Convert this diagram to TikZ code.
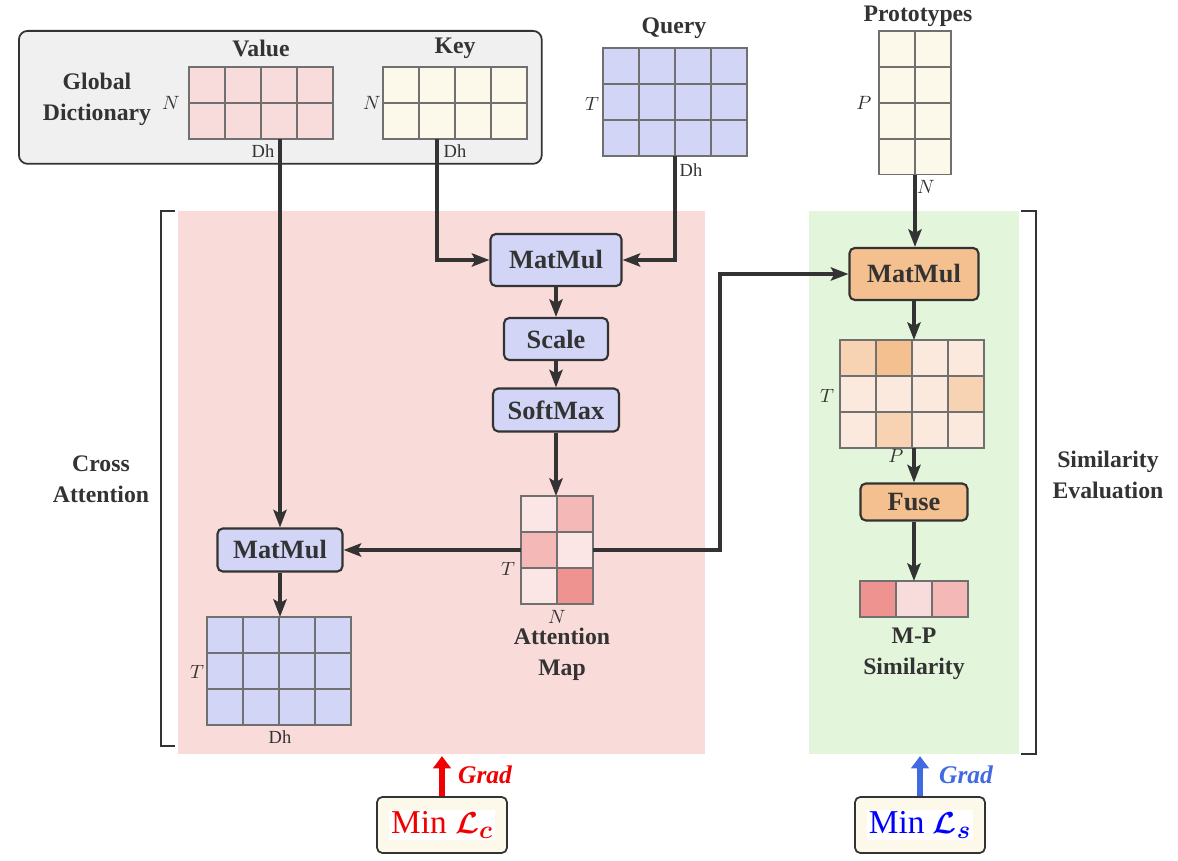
\documentclass[tikz,border=0pt]{standalone}
\usepackage{fontspec}
\setmainfont{Liberation Serif}
\usepackage{amsmath}
\usetikzlibrary{positioning, arrows.meta}

\definecolor{txt}{HTML}{333333}
\definecolor{lav}{HTML}{D3D5F7}
\definecolor{pinkbg}{HTML}{F9DBDA}
\definecolor{greenbg}{HTML}{E3F5DA}
\definecolor{dictgray}{HTML}{F0F0F0}
\definecolor{pinkcell}{HTML}{F8DCDB}
\definecolor{cream}{HTML}{FCF8EA}
\definecolor{orng}{HTML}{F5C08F}
\definecolor{orngmid}{HTML}{F8D3B3}
\definecolor{ornglight}{HTML}{FAE9DC}
\definecolor{attlight}{HTML}{FCE6E5}
\definecolor{attmid}{HTML}{F4B8B6}
\definecolor{attdark}{HTML}{EF9391}
\definecolor{gridgray}{HTML}{707070}
\definecolor{gradred}{HTML}{F00000}
\definecolor{gradblue}{HTML}{4169E1}

\newcommand{\cw}{0.72cm}
% grid lines over a matrix node
\newcommand{\gridlines}[3]{%
  \draw[gridline] (#1.north west) rectangle (#1.south east);
  \foreach \ci in {1,...,#2}
    \draw[gridline] ([xshift=\ci*\cw]#1.north west) -- ([xshift=\ci*\cw]#1.south west);
  \foreach \ri in {1,...,#3}
    \draw[gridline] ([yshift=-\ri*\cw]#1.north west) -- ([yshift=-\ri*\cw]#1.north east);
}
% one coloured cell (col, row from 0)
\newcommand{\cellfill}[4]{%
  \fill[#4] ([xshift=#2*\cw,yshift=-#3*\cw]#1.north west) rectangle ++(\cw,-\cw);
}

\begin{document}
\begin{tikzpicture}[x=0.02cm, y=-0.02cm,
  lbl/.style={font=\fontsize{13.5}{17.5}\selectfont\bfseries, text=txt, align=center},
  dimlbl/.style={font=\fontsize{10.5}{12}\selectfont, text=txt, inner sep=1pt},
  matbox/.style={inner sep=0pt, outer sep=0pt, anchor=north west},
  gridline/.style={draw=gridgray, line width=0.6pt},
  op/.style={draw=txt, line width=1.2pt, rounded corners=3pt, inner sep=0pt,
    font=\fontsize{15}{18}\selectfont\bfseries, text=txt},
  flow/.style={draw=txt, line width=2.2pt, -{Stealth[length=10pt, width=7.5pt, inset=2pt]}},
  bracket/.style={draw=txt, line width=0.9pt},
  lossbox/.style={draw=txt, line width=1pt, rounded corners=3pt, fill=cream,
    minimum width=2.6cm, minimum height=1.12cm, inner sep=0pt},
  gradarrow/.style={line width=3.2pt, -{Triangle[length=7pt, width=10pt]}},
  gradlbl/.style={font=\fontsize{14.5}{17}\selectfont\bfseries\itshape}]
  \useasboundingbox (0,0) rectangle (1178,861);

  % Panels
  \fill[pinkbg] (178,211) rectangle (705,754);
  \fill[greenbg] (809,211) rectangle (1019,754);
  \node[draw=txt, line width=1pt, rounded corners=5pt, fill=dictgray, anchor=north west,
    minimum width=10.46cm, minimum height=2.66cm] (dict) at (18,30) {};

  % Brackets
  \draw[bracket] (175,211) -- (161,211) -- (161,746) -- (175,746);
  \draw[bracket] (1021,211) -- (1036,211) -- (1036,754) -- (1021,754);

  % Side labels
  \node[lbl] (globdict) at (97,99) {Global\\Dictionary};
  \node[lbl] (crossatt) at (101,479) {Cross\\Attention};
  \node[lbl] (simeval) at (1108,475) {Similarity\\Evaluation};

  % Value
  \node[matbox, fill=pinkcell, minimum width=4*\cw, minimum height=2*\cw] (value) at (189,67) {};
  \gridlines{value}{4}{2}
  \node[lbl] (valuelbl) at (261,48) {Value};
  \node[dimlbl] (valuen) at (171,103) {$N$};
  \node[dimlbl] (valuedh) at (263,151) {$\mathrm{Dh}$};
  % Key
  \node[matbox, fill=cream, minimum width=4*\cw, minimum height=2*\cw] (key) at (383,67) {};
  \gridlines{key}{4}{2}
  \node[lbl] (keylbl) at (455,48) {Key};
  \node[dimlbl] (keyn) at (372,103) {$N$};
  \node[dimlbl] (keydh) at (455,151) {$\mathrm{Dh}$};
  % Query
  \node[matbox, fill=lav, minimum width=4*\cw, minimum height=3*\cw] (query) at (603,48) {};
  \gridlines{query}{4}{3}
  \node[lbl] (querylbl) at (674,28) {Query};
  \node[dimlbl] (queryt) at (592,104) {$T$};
  \node[dimlbl] (querydh) at (691,170) {$\mathrm{Dh}$};
  % Prototypes
  \node[matbox, fill=cream, minimum width=2*\cw, minimum height=4*\cw] (proto) at (879,31) {};
  \gridlines{proto}{2}{4}
  \node[lbl] (protolbl) at (918,16) {Prototypes};
  \node[dimlbl] (protop) at (864,103) {$P$};
  \node[dimlbl] (proton) at (926,187) {$N$};

  % Attention map
  \node[matbox, fill=attlight, minimum width=2*\cw, minimum height=3*\cw] (attn) at (521,496) {};
  \cellfill{attn}{1}{0}{attmid}
  \cellfill{attn}{0}{1}{attmid}
  \cellfill{attn}{1}{2}{attdark}
  \gridlines{attn}{2}{3}
  \node[dimlbl] (attnt) at (508,569) {$T$};
  \node[dimlbl] (attnn) at (557,617) {$N$};
  \node[lbl] (attnlbl) at (562,654) {Attention\\Map};

  % Output of cross attention
  \node[matbox, fill=lav, minimum width=4*\cw, minimum height=3*\cw] (out) at (207,617) {};
  \gridlines{out}{4}{3}
  \node[dimlbl] (outt) at (197,672) {$T$};
  \node[dimlbl] (outdh) at (280,737) {$\mathrm{Dh}$};

  % Similarity matrix
  \node[matbox, fill=ornglight, minimum width=4*\cw, minimum height=3*\cw] (sim) at (840,340) {};
  \cellfill{sim}{0}{0}{orngmid}
  \cellfill{sim}{1}{0}{orng}
  \cellfill{sim}{3}{1}{orngmid}
  \cellfill{sim}{1}{2}{orngmid}
  \gridlines{sim}{4}{3}
  \node[dimlbl] (simt) at (827,396) {$T$};
  \node[dimlbl] (simp) at (896,456) {$P$};

  % M-P similarity
  \node[matbox, fill=pinkcell, minimum width=3*\cw, minimum height=1*\cw] (mp) at (860,581) {};
  \cellfill{mp}{0}{0}{attdark}
  \cellfill{mp}{2}{0}{attmid}
  \gridlines{mp}{3}{1}
  \node[lbl] (mplbl) at (914,654) {M-P\\Similarity};

  % Operations
  \node[op, fill=lav, minimum width=2.62cm, minimum height=1.04cm] (matmul1) at (556,260) {MatMul};
  \node[op, fill=lav, minimum width=2.08cm, minimum height=0.84cm] (scale) at (556,339) {Scale};
  \node[op, fill=lav, minimum width=2.52cm, minimum height=0.86cm] (softmax) at (556,410) {SoftMax};
  \node[op, fill=lav, minimum width=2.5cm, minimum height=0.86cm] (matmul2) at (280,550) {MatMul};
  \node[op, fill=orng, minimum width=2.58cm, minimum height=1.04cm] (matmul3) at (914,274) {MatMul};
  \node[op, fill=orng, minimum width=2.14cm, minimum height=0.74cm] (fuse) at (914,502) {Fuse};

  % Connectors
  \draw[flow] (value.south -| matmul2.north) -- (matmul2.north);
  \draw[flow] ([xshift=-0.36cm]key.south) |- (matmul1.west);
  \draw[flow] (query.south) |- (matmul1.east);
  \draw[flow] (matmul1) -- (scale);
  \draw[flow] (scale) -- (softmax);
  \draw[flow] (softmax.south) -- (softmax.south |- attn.north);
  \draw[flow] (attn.west) -- (attn.west -| matmul2.east);
  \draw[flow] (attn.east) -- ++(127,0) |- (matmul3.west);
  \draw[flow] (proto.south) -- (proto.south |- matmul3.north);
  \draw[flow] (matmul3.south) -- (matmul3.south |- sim.north);
  \draw[flow] (sim.south -| fuse.north) -- (fuse.north);
  \draw[flow] (fuse.south) -- (fuse.south |- mp.north);
  \draw[flow] (matmul2.south) -- (matmul2.south |- out.north);

  % Losses
  \setlength{\fboxsep}{1pt}
  \node[lossbox] (lossc) at (442,825)
    {\colorbox{white}{\fontsize{19}{22}\selectfont\color{gradred}Min $\boldsymbol{\mathcal{L}_c}$}};
  \node[lossbox] (losss) at (920,825)
    {\colorbox{white}{\fontsize{19}{22}\selectfont\color{blue}Min $\boldsymbol{\mathcal{L}_s}$}};
  \draw[gradarrow, draw=gradred, fill=gradred] (lossc.north) -- ++(0,-40);
  \draw[gradarrow, draw=gradblue, fill=gradblue] (losss.north) -- ++(0,-40);
  \node[gradlbl, text=gradred] (gradc) at (485,775) {Grad};
  \node[gradlbl, text=gradblue] (grads) at (966,775) {Grad};
\end{tikzpicture}
\end{document}
